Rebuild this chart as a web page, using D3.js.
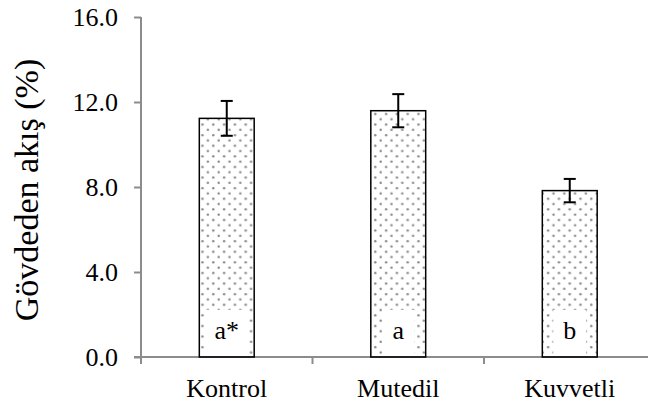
<!DOCTYPE html>
<html>
<head>
<meta charset="utf-8">
<script src="https://cdn.jsdelivr.net/npm/d3@7/dist/d3.min.js"></script>
<style>
  html, body { margin: 0; padding: 0; background: #fff; }
  svg { display: block; }
</style>
</head>
<body>
<svg id="chart" width="648" height="406"></svg>
<script>
// Stem flow by treatment group
const categories = ["Kontrol", "Mutedil", "Kuvvetli"];
const means = [11.23, 11.59, 7.83];
const errors = [0.82, 0.78, 0.55];
const groupLetters = ["a*", "a", "b"];
const yTicks = [0, 4, 8, 12, 16];
const yTitle = "Gövdeden akış (%)";

const FONT = '"Liberation Serif"';
const svg = d3.select("#chart");
const W = 648, H = 406;
const plotLeft = 141, plotTop = 17, plotBottom = 357;
const bandW = 171.5;

const x = d3.scaleBand()
  .domain(categories)
  .range([plotLeft, plotLeft + bandW * categories.length])
  .paddingInner(0.68)
  .paddingOuter(0.34);

const y = d3.scaleLinear().domain([0, 16]).range([plotBottom, plotTop]);

// dotted fill
const defs = svg.append("defs");
const pat = defs.append("pattern")
  .attr("id", "dots")
  .attr("patternUnits", "userSpaceOnUse")
  .attr("width", 10.8).attr("height", 10.6)
  .attr("x", 0).attr("y", 0);
pat.append("circle").attr("cx", 2.7).attr("cy", 2.7).attr("r", 1.25).attr("fill", "#8a8a8a");
pat.append("circle").attr("cx", 8.1).attr("cy", 8.0).attr("r", 1.25).attr("fill", "#8a8a8a");

const axisColor = "#8c8c8c";

// y axis
const yAxis = svg.append("g")
  .attr("transform", `translate(${plotLeft},0)`)
  .call(d3.axisLeft(y).tickValues(yTicks).tickFormat(d3.format(".1f")).tickSize(7).tickPadding(16))
  .attr("font-family", null)
  .attr("font-size", null);
yAxis.select(".domain").attr("stroke", axisColor).attr("stroke-width", 2)
  .attr("d", `M0,${plotTop}V${plotBottom + 7}`);
yAxis.selectAll(".tick line").attr("stroke", axisColor).attr("stroke-width", 2);
yAxis.selectAll(".tick text")
  .style("font-family", FONT)
  .style("font-size", "26px")
  .attr("fill", "#000");

// x axis with boundary ticks between categories
const xg = svg.append("g");
xg.append("line")
  .attr("x1", plotLeft - 7).attr("x2", W + 10)
  .attr("y1", plotBottom).attr("y2", plotBottom)
  .attr("stroke", axisColor).attr("stroke-width", 2);
const boundaries = categories.slice(1).map(c => x(c) - x.step() * x.paddingInner() / 2);
xg.selectAll("line.sep").data(boundaries).join("line")
  .attr("class", "sep")
  .attr("x1", d => d).attr("x2", d => d)
  .attr("y1", plotBottom).attr("y2", plotBottom + 7)
  .attr("stroke", axisColor).attr("stroke-width", 2);
xg.selectAll("text.cat").data(categories).join("text")
  .attr("class", "cat")
  .attr("x", d => x(d) + x.bandwidth() / 2)
  .attr("y", 397)
  .attr("text-anchor", "middle")
  .style("font-family", FONT)
  .style("font-size", "26px")
  .attr("fill", "#000")
  .text(d => d);

// bars
const data = categories.map((c, i) => ({ c, v: means[i], e: errors[i], g: groupLetters[i] }));
svg.selectAll("rect.bar").data(data).join("rect")
  .attr("class", "bar")
  .attr("x", d => x(d.c))
  .attr("y", d => y(d.v))
  .attr("width", x.bandwidth())
  .attr("height", d => y(0) - y(d.v))
  .attr("fill", "url(#dots)")
  .attr("stroke", "#000")
  .attr("stroke-width", 1.5);

// group letters on white boxes
const lab = svg.selectAll("g.lab").data(data).join("g").attr("class", "lab");
lab.each(function(d) {
  const g = d3.select(this);
  const cx = x(d.c) + x.bandwidth() / 2;
  const t = g.append("text")
    .attr("x", cx).attr("y", 339)
    .attr("text-anchor", "middle")
    .style("font-family", FONT)
    .style("font-size", "26px")
    .attr("fill", "#000")
    .text(d.g);
  const bb = t.node().getBBox();
  const padX = 10;
  g.insert("rect", "text")
    .attr("x", bb.x - padX).attr("width", bb.width + padX * 2)
    .attr("y", 310).attr("height", 44)
    .attr("fill", "#fff");
});

// error bars
const eb = svg.selectAll("g.err").data(data).join("g").attr("class", "err")
  .attr("stroke", "#000").attr("stroke-width", 2);
eb.append("line")
  .attr("x1", d => x(d.c) + x.bandwidth() / 2).attr("x2", d => x(d.c) + x.bandwidth() / 2)
  .attr("y1", d => y(d.v + d.e)).attr("y2", d => y(d.v - d.e));
[1, -1].forEach(s => {
  eb.append("line")
    .attr("x1", d => x(d.c) + x.bandwidth() / 2 - 6).attr("x2", d => x(d.c) + x.bandwidth() / 2 + 6)
    .attr("y1", d => y(d.v + s * d.e)).attr("y2", d => y(d.v + s * d.e));
});

// y title
svg.append("text")
  .attr("transform", `translate(38,190) rotate(-90)`)
  .attr("text-anchor", "middle")
  .style("font-family", FONT)
  .style("font-size", "34px")
  .attr("fill", "#000")
  .text(yTitle);
</script>
</body>
</html>
